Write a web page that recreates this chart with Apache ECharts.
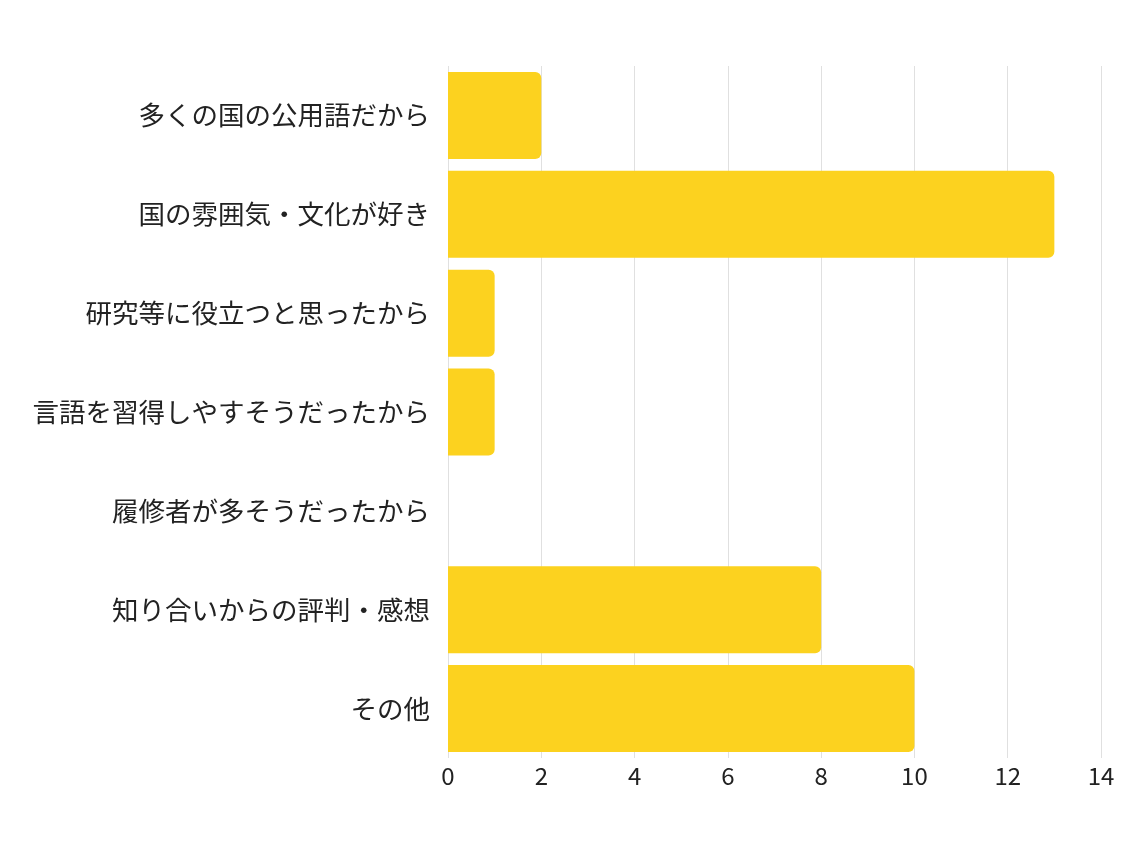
<!DOCTYPE html>
<html><head><meta charset="utf-8">
<script src="https://cdn.jsdelivr.net/npm/echarts@6/dist/echarts.min.js"></script>
<style>html,body{margin:0;padding:0;background:#fff}#c{width:1144px;height:858px}</style>
</head><body><div id="c"></div>
<script>
const categories = ["多くの国の公用語だから","国の雰囲気・文化が好き","研究等に役立つと思ったから","言語を習得しやすそうだったから","履修者が多そうだったから","知り合いからの評判・感想","その他"];
const values = [2, 13, 1, 1, 0, 8, 10];
const xTicks = {min: 0, max: 14, interval: 2};

const chart = echarts.init(document.getElementById('c'), null, {renderer: 'canvas'});
chart.setOption({
  animation: false,
  backgroundColor: '#ffffff',
  grid: {left: 448, right: 43, top: 66, bottom: 100, containLabel: false},
  xAxis: {
    type: 'value', min: xTicks.min, max: xTicks.max, interval: xTicks.interval,
    axisLine: {show: false}, axisTick: {show: false},
    splitLine: {show: true, lineStyle: {color: '#e0e0e0', width: 1}},
    axisLabel: {color: '#222', fontSize: 24, margin: 6, fontFamily: 'Noto Sans CJK JP'}
  },
  yAxis: {
    type: 'category', data: categories, inverse: true,
    axisLine: {show: false}, axisTick: {show: false},
    axisLabel: {color: '#222', fontSize: 26.5, margin: 18, fontFamily: 'Noto Sans CJK JP'}
  },
  series: [{
    type: 'bar', data: values, barCategoryGap: '12%',
    itemStyle: {color: '#FCD21F', borderRadius: [0, 6, 6, 0]}
  }]
});
</script></body></html>
